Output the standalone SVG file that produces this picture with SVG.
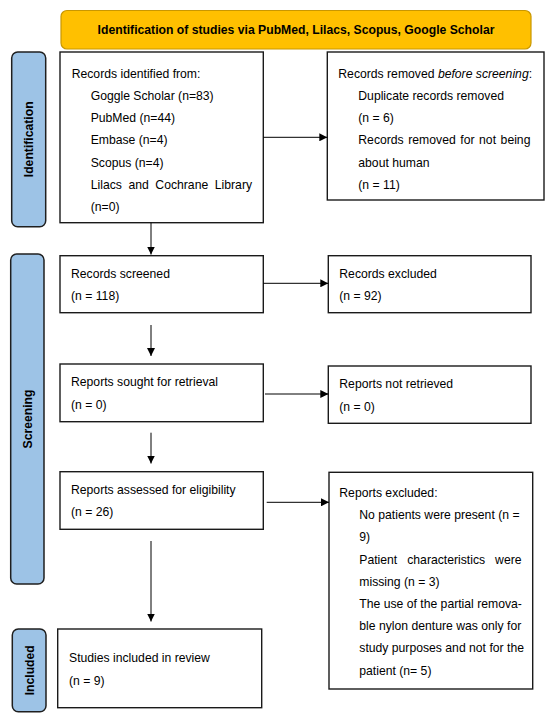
<svg xmlns="http://www.w3.org/2000/svg" width="550" height="722" viewBox="0 0 550 722">
<defs>
<marker id="ah" markerWidth="8" markerHeight="8" refX="8" refY="4" orient="auto" markerUnits="userSpaceOnUse">
<path d="M0,0 L8,4 L0,8 Z" fill="#000"/>
</marker>
<style>
.t{font-family:"Liberation Sans",Arial,sans-serif;font-size:12.2px;fill:#000}
.b{font-family:"Liberation Sans",Arial,sans-serif;font-size:12.2px;font-weight:bold;fill:#000}
.box{fill:#fff;stroke:#1a1a1a;stroke-width:1.4}
.side{fill:#9DC3E6;stroke:#1f1f1f;stroke-width:1.5}
.conn{stroke:#000;stroke-width:1;fill:none;marker-end:url(#ah)}
</style>
</defs>
<rect width="550" height="722" fill="#fff"/>

<g id="banner">
<rect x="61" y="10.5" width="470" height="38.5" rx="6" fill="#FFC000" stroke="#C99700" stroke-width="1.2"/>
<text class="b" x="296" y="34" text-anchor="middle">Identification of studies via PubMed, Lilacs, Scopus, Google Scholar</text>
</g>

<g id="side-identification">
<rect class="side" x="11.7" y="52" width="34" height="174.7" rx="6"/>
<text class="b" x="0" y="0" text-anchor="middle" transform="translate(33,139.3) rotate(-90)">Identification</text>
</g>
<g id="side-screening">
<rect class="side" x="10.7" y="254" width="33.3" height="330" rx="6"/>
<text class="b" x="0" y="0" text-anchor="middle" transform="translate(32,419) rotate(-90)">Screening</text>
</g>
<g id="side-included">
<rect class="side" x="12.3" y="629" width="33.7" height="82.7" rx="6"/>
<text class="b" x="0" y="0" text-anchor="middle" transform="translate(33.5,670.3) rotate(-90)">Included</text>
</g>

<g id="records-identified">
<rect class="box" x="60" y="52" width="203.3" height="170.7"/>
<text class="t" x="71.7" y="77.7">Records identified from:</text>
<text class="t" x="90.7" y="99.9">Goggle Scholar (n=83)</text>
<text class="t" x="90.7" y="122.1">PubMed (n=44)</text>
<text class="t" x="90.7" y="144.3">Embase (n=4)</text>
<text class="t" x="90.7" y="166.5">Scopus (n=4)</text>
<text class="t" x="90.7" y="188.7" word-spacing="3.2">Lilacs and Cochrane Library</text>
<text class="t" x="90.7" y="210.9">(n=0)</text>
</g>

<g id="records-removed">
<rect class="box" x="327.3" y="52" width="216.7" height="148"/>
<text class="t" x="338.3" y="77.7">Records removed <tspan font-style="italic">before screening</tspan>:</text>
<text class="t" x="358.3" y="99.9">Duplicate records removed</text>
<text class="t" x="358.3" y="122.1">(n = 6)</text>
<text class="t" x="358.3" y="144.3" word-spacing="1.2">Records removed for not being</text>
<text class="t" x="358.3" y="166.5">about human</text>
<text class="t" x="358.3" y="188.7">(n = 11)</text>
</g>

<g id="records-screened">
<rect class="box" x="60" y="255.7" width="203.3" height="57"/>
<text class="t" x="71" y="277.7">Records screened</text>
<text class="t" x="71" y="300.4">(n = 118)</text>
</g>

<g id="records-excluded">
<rect class="box" x="328.3" y="255.7" width="202.7" height="57"/>
<text class="t" x="339.3" y="277.7">Records excluded</text>
<text class="t" x="339.3" y="300.4">(n = 92)</text>
</g>

<g id="reports-sought">
<rect class="box" x="60" y="364" width="203.3" height="57.7"/>
<text class="t" x="71" y="386.1">Reports sought for retrieval</text>
<text class="t" x="71" y="409.4">(n = 0)</text>
</g>

<g id="reports-not-retrieved">
<rect class="box" x="328.3" y="366" width="202.7" height="57.3"/>
<text class="t" x="339.3" y="388.4">Reports not retrieved</text>
<text class="t" x="339.3" y="411.1">(n = 0)</text>
</g>

<g id="reports-assessed">
<rect class="box" x="60" y="471.7" width="203.3" height="57.6"/>
<text class="t" x="71" y="494.4">Reports assessed for eligibility</text>
<text class="t" x="71" y="516.1">(n = 26)</text>
</g>

<g id="reports-excluded">
<rect class="box" x="329" y="472.3" width="203.7" height="216.7"/>
<text class="t" x="339.3" y="496.9">Reports excluded:</text>
<text class="t" x="359.3" y="519.1">No patients were present (n =</text>
<text class="t" x="359.3" y="541.3">9)</text>
<text class="t" x="359.3" y="563.5" word-spacing="6.6">Patient characteristics were</text>
<text class="t" x="359.3" y="585.7">missing (n = 3)</text>
<text class="t" x="359.3" y="607.9">The use of the partial remova-</text>
<text class="t" x="359.3" y="630.1">ble nylon denture was only for</text>
<text class="t" x="359.3" y="652.3">study purposes and not for the</text>
<text class="t" x="359.3" y="674.5">patient (n= 5)</text>
</g>

<g id="studies-included">
<rect class="box" x="57.7" y="629" width="204" height="78.7"/>
<text class="t" x="69" y="661.7">Studies included in review</text>
<text class="t" x="69" y="685.4">(n = 9)</text>
</g>

<g id="connectors">
<line class="conn" x1="263.3" y1="137.3" x2="327.3" y2="137.3"/>
<line class="conn" x1="151" y1="222.7" x2="151" y2="254.5"/>
<line class="conn" x1="263.3" y1="283.3" x2="328.3" y2="283.3"/>
<line class="conn" x1="151" y1="325" x2="151" y2="356"/>
<line class="conn" x1="265" y1="394" x2="328.3" y2="394"/>
<line class="conn" x1="151" y1="432.7" x2="151" y2="463.5"/>
<line class="conn" x1="266.7" y1="502.3" x2="329" y2="502.3"/>
<line class="conn" x1="151" y1="541" x2="151" y2="621.5"/>
</g>
</svg>
